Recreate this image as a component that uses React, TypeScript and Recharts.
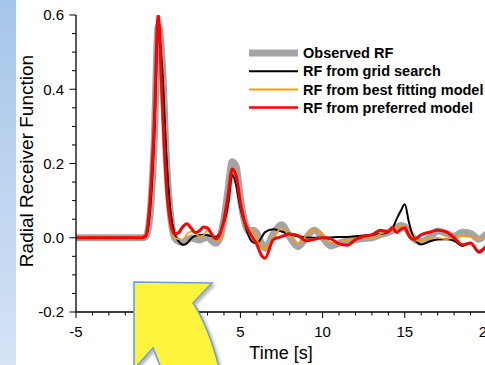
import { LineChart, Line, XAxis, YAxis, Legend } from 'recharts';

// time axis (s) - denser sampling around the pulses
const times = [
  -5, -4.5, -4, -3.5, -3, -2.5, -2, -1.5,
  -1, -0.75, -0.5, -0.25, 0, 0.25, 0.5, 0.75, 1, 1.25, 1.5, 1.75, 2, 2.25, 2.5, 2.75, 3, 3.25, 3.5, 3.75, 4, 4.25, 4.5, 4.75, 5, 5.25, 5.5, 5.75, 6, 6.25, 6.5,
  7, 7.5, 8, 8.5, 9, 9.5, 10, 10.5, 11, 11.5, 12, 12.5, 13, 13.5, 14,
  14.25, 14.5, 14.75, 15, 15.25, 15.5, 15.75, 16,
  16.5, 17, 17.5, 18, 18.5, 19, 19.5, 20,
];

const observed = [
  0, 0, 0, 0, 0, 0, 0, 0,
  0, 0.003, 0.06, 0.25, 0.57, 0.47, 0.21, 0.06, 0.0, -0.01, -0.012, -0.006, -0.001, -0.003, -0.006, -0.002, 0.002, -0.008, -0.015, 0.0, 0.05, 0.13, 0.205, 0.19, 0.105, 0.045, 0.018, 0.02, 0.012, -0.012, -0.028,
  0.01, 0.035, 0.002, -0.024, 0.0, 0.02, 0.0, -0.022, -0.015, -0.008, -0.005, -0.002, 0.0, 0.008, 0.015,
  0.02, 0.027, 0.033, 0.03, 0.015, 0.0, -0.008, -0.01,
  0.0, 0.018, 0.012, 0.004, 0.015, 0.012, -0.004, 0.012,
];

const gridSearch = [
  0, 0, 0, 0, 0, 0, 0, 0,
  0, 0.003, 0.07, 0.26, 0.56, 0.45, 0.22, 0.07, 0.01, -0.01, -0.019, -0.015, -0.002, 0.005, 0.007, 0.008, 0.007, 0.004, 0.003, 0.012, 0.04, 0.09, 0.17, 0.14, 0.08, 0.04, 0.005, -0.012, -0.015, -0.002, 0.015,
  0.023, 0.017, 0.01, 0.004, 0.001, 0.0, 0.0, 0.001, 0.002, 0.002, 0.004, 0.006, 0.008, 0.01, 0.015,
  0.025, 0.05, 0.072, 0.09, 0.042, 0.004, -0.012, -0.018,
  -0.01, -0.005, -0.004, -0.008, -0.022, -0.014, -0.04, -0.022,
];

const bestFitting = [
  0, 0.003, -0.002, 0.003, -0.002, 0.002, -0.002, 0.002,
  0.003, 0.012, 0.11, 0.3, 0.59, 0.36, 0.13, 0.03, 0.0, -0.004, -0.005, 0.01, 0.017, 0.012, 0.004, 0.006, 0.02, 0.01, -0.006, -0.005, 0.04, 0.11, 0.175, 0.165, 0.09, 0.04, 0.024, 0.022, -0.005, -0.025, -0.03,
  0.0, 0.026, 0.005, -0.015, 0.005, 0.022, 0.01, -0.014, -0.012, -0.006, -0.002, 0.0, 0.0, 0.01, 0.018,
  0.022, 0.028, 0.032, 0.03, 0.015, 0.0, -0.008, -0.01,
  0.0, 0.0, -0.004, 0.002, 0.004, 0.002, -0.004, -0.004,
];

const preferred = [
  0, 0, 0, 0, 0, 0, 0, 0,
  0, 0.006, 0.1, 0.3, 0.6, 0.36, 0.14, 0.04, 0.01, 0.014, 0.03, 0.038, 0.026, 0.014, 0.018, 0.029, 0.026, 0.01, -0.003, 0.01, 0.05, 0.115, 0.185, 0.165, 0.095, 0.045, 0.018, 0.0, -0.018, -0.045, -0.055,
  -0.005, 0.003, 0.01, 0.006, -0.008, -0.004, 0.0, -0.003, -0.016, -0.02, -0.005, 0.004, 0.008, 0.02, 0.016,
  0.028, 0.014, 0.022, 0.027, 0.006, -0.004, 0.0, 0.008,
  0.015, 0.02, 0.016, 0.0, -0.019, -0.014, -0.037, -0.02,
];

const seriesNames = ['Observed RF', 'RF from grid search', 'RF from best fitting model', 'RF from preferred model'];

const xTicks = [-5, -4, -3, -2, -1, 0, 1, 2, 3, 4, 5, 6, 7, 8, 9, 10, 11, 12, 13, 14, 15, 16, 17, 18, 19, 20];
const xMajorTicks = [-5, 0, 5, 10, 15, 20];
const xTickLabels = ['-5', '0', '5', '10', '15', '20'];
const yTicks = [-0.2, -0.15, -0.1, -0.05, 0, 0.05, 0.1, 0.15, 0.2, 0.25, 0.3, 0.35, 0.4, 0.45, 0.5, 0.55, 0.6];
const yMajorTicks = [-0.2, 0, 0.2, 0.4, 0.6];
const yTickLabels = ['-0.2', '0.0', '0.2', '0.4', '0.6'];

const data = times.map((t, i) => ({
  t,
  observed: observed[i],
  grid: gridSearch[i],
  best: bestFitting[i],
  preferred: preferred[i],
}));

const FONT = '"Liberation Sans", Arial, Helvetica, sans-serif';

const lines = [
  { key: 'observed', color: '#a4a4a4', width: 7, legendWidth: 7 },
  { key: 'grid', color: '#000000', width: 2, legendWidth: 2 },
  { key: 'best', color: '#ff9a00', width: 1.6, legendWidth: 2 },
  { key: 'preferred', color: '#ff0000', width: 3, legendWidth: 2.5 },
];

const majorIndex = (list: number[], v: number) => list.findIndex((m) => Math.abs(m - v) < 1e-6);

function BottomTick({ x, y, payload }: any) {
  const i = majorIndex(xMajorTicks, payload.value);
  return (
    <g>
      <line x1={x} x2={x} y1={y} y2={y + (i >= 0 ? 6 : 3.5)} stroke="#000" strokeWidth={1} />
      {i >= 0 && (
        <text x={x} y={y + 24.5} textAnchor="middle" fontSize={15} fill="#000">
          {xTickLabels[i]}
        </text>
      )}
    </g>
  );
}

function TopTick({ x, y, payload }: any) {
  const i = majorIndex(xMajorTicks, payload.value);
  return <line x1={x} x2={x} y1={y} y2={y - (i >= 0 ? 5 : 3)} stroke="#000" strokeWidth={1} />;
}

function LeftTick({ x, y, payload }: any) {
  const i = majorIndex(yMajorTicks, payload.value);
  return (
    <g>
      <line x1={x} x2={x - (i >= 0 ? 6.5 : 4)} y1={y} y2={y} stroke="#000" strokeWidth={1} />
      {i >= 0 && (
        <text x={x - 12} y={y} dy="0.36em" textAnchor="end" fontSize={15} fill="#000">
          {yTickLabels[i]}
        </text>
      )}
    </g>
  );
}

const renderLegend = () => (
  <svg width={250} height={80} style={{ overflow: 'visible' }}>
    {seriesNames.map((name, i) => {
      const cy = 9 + i * 18.2;
      return (
        <g key={name}>
          <line x1={0} x2={49} y1={cy} y2={cy} stroke={lines[i].color} strokeWidth={lines[i].legendWidth} />
          <text x={54} y={cy} dy="0.36em" fontSize={14.5} fontWeight="bold" fill="#000">
            {name}
          </text>
        </g>
      );
    })}
  </svg>
);

export default function App() {
  return (
    <div style={{ position: 'relative', width: 485, height: 365, overflow: 'hidden', fontFamily: FONT, background: '#fff' }}>
      <style>{'body{margin:0;overflow:hidden}'}</style>
      <div
        style={{
          position: 'absolute',
          left: 0,
          top: 0,
          width: 16,
          height: 365,
          background: 'linear-gradient(to bottom, #a6c5ea, #d5e3f5)',
        }}
      />
      <div style={{ position: 'absolute', left: 0, top: 0 }}>
        <LineChart width={500} height={365} data={data} margin={{ top: 15, right: 13, left: 0, bottom: 0 }}>
          <XAxis
            xAxisId="top"
            orientation="top"
            type="number"
            dataKey="t"
            domain={[-5, 20]}
            ticks={xTicks}
            height={0}
            tickSize={0}
            tickMargin={0}
            tickLine={false}
            tick={<TopTick />}
            axisLine={{ stroke: '#000', strokeWidth: 1.3 }}
            allowDataOverflow
          />
          <XAxis
            xAxisId="b"
            type="number"
            dataKey="t"
            domain={[-5, 20]}
            ticks={xTicks}
            height={53}
            tickSize={0}
            tickMargin={0}
            tickLine={false}
            tick={<BottomTick />}
            axisLine={{ stroke: '#000', strokeWidth: 1.3 }}
            interval={0}
            allowDataOverflow
          />
          <YAxis
            type="number"
            domain={[-0.2, 0.6]}
            ticks={yTicks}
            width={76}
            tickSize={0}
            tickMargin={0}
            tickLine={false}
            tick={<LeftTick />}
            axisLine={{ stroke: '#000', strokeWidth: 1.3 }}
            interval={0}
            allowDataOverflow
          />
          <Legend
            content={renderLegend}
            layout="horizontal"
            verticalAlign="middle"
            align="center"
            wrapperStyle={{ left: 249, top: 43.5, width: 250, height: 80 }}
          />
          {lines.map((l, i) => (
            <Line
              key={l.key}
              xAxisId="b"
              type="monotone"
              dataKey={l.key}
              name={seriesNames[i]}
              stroke={l.color}
              strokeWidth={l.width}
              strokeLinejoin="round"
              dot={false}
              activeDot={false}
              isAnimationActive={false}
            />
          ))}
        </LineChart>
      </div>
      <svg
        width={485}
        height={365}
        style={{ position: 'absolute', left: 0, top: 0, pointerEvents: 'none', overflow: 'visible' }}
      >
        <defs>
          <filter id="arrowShadow" x="-20%" y="-20%" width="140%" height="140%">
            <feDropShadow dx="2" dy="2" stdDeviation="1.5" floodColor="#000" floodOpacity="0.3" />
          </filter>
        </defs>
        <text x={281} y={359} textAnchor="middle" fontSize={18} fill="#000">
          Time [s]
        </text>
        <text x={33} y={161} textAnchor="middle" fontSize={19} fill="#000" transform="rotate(-90, 33, 161)">
          Radial Receiver Function
        </text>
        <path
          d="M134,282 L212,283 L193,303 Q211,330 222,380 L166,380 L153,348 L134,369 Z"
          fill="#fff43a"
          stroke="#6f9fd8"
          strokeWidth={1.6}
          strokeLinejoin="miter"
          filter="url(#arrowShadow)"
        />
      </svg>
    </div>
  );
}
